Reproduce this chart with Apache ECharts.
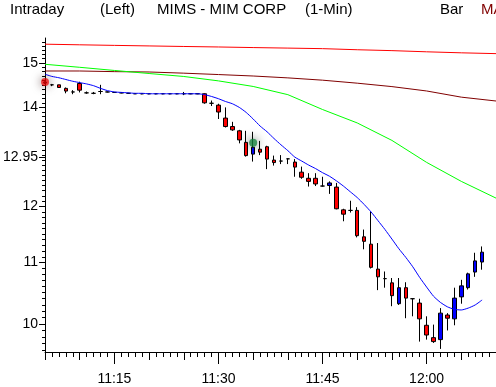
<!DOCTYPE html>
<html>
<head>
<meta charset="utf-8">
<script src="https://cdn.jsdelivr.net/npm/echarts@6/dist/echarts.min.js"></script>
<style>
html,body{margin:0;padding:0;background:#fff;}
#c{width:496px;height:387px;}
</style>
</head>
<body>
<div id="c"></div>
<script>
// ---- categories (1-minute bars) ----
const times = ['11:05','11:06','11:07','11:08','11:09','11:10','11:11','11:12','11:13','11:14',
 '11:15','11:16','11:17','11:18','11:19','11:20','11:21','11:22','11:23','11:24',
 '11:25','11:26','11:27','11:28','11:29','11:30','11:31','11:32','11:33','11:34',
 '11:35','11:36','11:37','11:38','11:39','11:40','11:41','11:42','11:43','11:44',
 '11:45','11:46','11:47','11:48','11:49','11:50','11:51','11:52','11:53','11:54',
 '11:55','11:56','11:57','11:58','11:59','12:00','12:01','12:02','12:03','12:04',
 '12:05','12:06','12:07','12:08','12:09','12:10'];
const xLabels = ['11:15','11:30','11:45','12:00'];

// ---- candles: [open, close, low, high] ----
const candles = [
 [14.56,14.54,14.52,14.58],[14.50,14.50,14.47,14.52],[14.50,14.44,14.43,14.50],[14.42,14.36,14.31,14.44],
 [14.34,14.34,14.29,14.38],[14.53,14.38,14.33,14.57],[14.32,14.32,14.30,14.35],[14.31,14.31,14.29,14.34],
 [14.35,14.35,14.29,14.50],[14.34,14.34,14.33,14.35],[14.33,14.33,14.32,14.34],[14.32,14.32,14.31,14.33],
 [14.31,14.31,14.30,14.32],[14.30,14.30,14.30,14.31],[14.30,14.30,14.29,14.30],[14.30,14.30,14.29,14.30],
 [14.30,14.30,14.29,14.30],[14.30,14.30,14.29,14.30],[14.30,14.30,14.29,14.30],[14.30,14.30,14.29,14.30],
 [14.30,14.30,14.27,14.34],[14.30,14.30,14.29,14.30],[14.30,14.30,14.29,14.30],[14.30,14.10,14.08,14.31],
 [14.09,14.09,14.03,14.15],[14.05,13.90,13.75,14.08],[13.77,13.59,13.57,14.00],[13.59,13.52,13.50,13.69],
 [13.50,13.31,13.24,13.52],[13.26,12.99,12.97,13.50],[13.02,13.16,12.87,13.48],[13.12,13.06,13.00,13.29],
 [13.17,12.92,12.72,13.19],[12.90,12.85,12.79,12.99],[12.88,12.88,12.82,13.00],[12.925,12.925,12.82,12.93],
 [12.86,12.76,12.57,12.92],[12.66,12.56,12.53,12.77],[12.54,12.48,12.38,12.64],[12.54,12.43,12.39,12.64],
 [12.39,12.39,12.38,12.57],[12.40,12.45,12.24,12.48],[12.37,11.96,11.95,12.45],[11.94,11.86,11.73,11.96],
 [11.93,11.93,11.89,12.11],[11.93,11.47,11.44,11.99],[11.45,11.37,11.23,11.58],[11.32,10.92,10.90,11.91],
 [10.89,10.76,10.54,11.34],[10.73,10.73,10.58,10.85],[10.66,10.45,10.28,10.74],[10.32,10.58,10.30,10.74],
 [10.58,10.41,10.09,10.67],[10.40,10.40,10.12,10.40],[10.33,10.08,9.73,10.40],[9.98,9.83,9.76,10.12],
 [9.79,9.73,9.71,9.99],[9.76,10.17,9.62,10.25],[10.14,10.09,9.90,10.17],[10.08,10.41,9.98,10.58],
 [10.43,10.61,10.32,10.71],[10.58,10.81,10.55,10.83],[10.84,11.03,10.76,11.17],[11.01,11.18,10.88,11.28]
];

// ---- short moving average (blue) ----
const maBlue = [14.74,14.69,14.66,14.62,14.58,14.55,14.52,14.48,14.42,14.37,
 14.34,14.33,14.32,14.31,14.31,14.30,14.30,14.30,14.30,14.30,
 14.30,14.30,14.30,14.28,14.24,14.19,14.13,14.08,14.00,13.89,
 13.75,13.60,13.48,13.34,13.21,13.09,12.96,12.88,12.80,12.73,
 12.65,12.58,12.49,12.39,12.28,12.17,12.04,11.90,11.74,11.58,
 11.41,11.24,11.09,10.93,10.75,10.59,10.44,10.34,10.27,10.23,
 10.22,10.25,10.30,10.38];

// ---- longer averages, read every 5 minutes ----
const maTimes = ['11:05','11:10','11:15','11:20','11:25','11:30','11:35','11:40','11:45','11:50','11:55','12:00','12:05','12:10'];
const maRed     = [15.445,15.43,15.416,15.403,15.39,15.378,15.364,15.351,15.338,15.312,15.291,15.263,15.239,15.22];
const maDarkRed = [14.815,14.815,14.80,14.792,14.765,14.733,14.70,14.657,14.605,14.537,14.46,14.362,14.225,14.14];
const maGreen   = [14.97,14.90,14.827,14.757,14.689,14.589,14.463,14.28,13.954,13.666,13.30,12.854,12.48,12.16];

// ---- event markers ----
const markRed = [['11:05', 14.565]];
const markGreen = [['11:35', 13.25]];

// ---- y axis ticks ----
const yTicks = [10, 11, 12, 12.95, 14, 15];
const yTickLabels = ['10', '11', '12', '12.95', '14', '15'];

const minorTicks = [];
for (let k = 96; k <= 155; k++) minorTicks.push(k / 10);

const Y_MIN = 9.574, Y_MAX = 15.594;
const FONT = 'Liberation Sans';

const chart = echarts.init(document.getElementById('c'), null, {renderer: 'canvas'});

function nearestLabel(v) {
  let best = 0, bd = Infinity;
  yTicks.forEach((t, k) => { const d = Math.abs(t - v); if (d < bd) { bd = d; best = k; } });
  return yTickLabels[best];
}
const mins = v => +String(v).slice(-2);

const baseX = {
  type: 'category', data: times, boundaryGap: false, position: 'bottom',
  splitLine: {show: false}
};

const option = {
  animation: false,
  backgroundColor: '#ffffff',
  textStyle: {fontFamily: FONT},
  grid: {left: 42, top: 38, width: 455, bottom: 35},
  graphic: [
    {type: 'text', left: 10, top: 2, style: {text: 'Intraday', font: '15px "' + FONT + '"', fill: '#000'}},
    {type: 'text', left: 100, top: 2, style: {text: '(Left)', font: '15px "' + FONT + '"', fill: '#000'}},
    {type: 'text', left: 157, top: 2, style: {text: 'MIMS - MIM CORP', font: '15px "' + FONT + '"', fill: '#000'}},
    {type: 'text', left: 305, top: 2, style: {text: '(1-Min)', font: '15px "' + FONT + '"', fill: '#000'}},
    {type: 'text', left: 440, top: 2, style: {text: 'Bar', font: '15px "' + FONT + '"', fill: '#000'}},
    {type: 'text', left: 481, top: 2, style: {text: 'MA', font: '15px "' + FONT + '"', fill: '#800000'}}
  ],
  xAxis: [
    Object.assign({}, baseX, {
      axisLine: {show: true, lineStyle: {color: '#000', width: 1}},
      axisTick: {show: true, interval: 0, length: 5, lineStyle: {color: '#000', width: 1}},
      axisLabel: {interval: (i, v) => xLabels.indexOf(v) >= 0, color: '#000', fontSize: 14, fontFamily: FONT, margin: 20}
    }),
    Object.assign({}, baseX, {
      axisLine: {show: false},
      axisTick: {show: true, interval: (i, v) => mins(v) % 5 === 0, length: 8, lineStyle: {color: '#000', width: 1}},
      axisLabel: {show: false}
    }),
    Object.assign({}, baseX, {
      axisLine: {show: false},
      axisTick: {show: true, interval: (i, v) => xLabels.indexOf(v) >= 0, length: 12, lineStyle: {color: '#000', width: 1}},
      axisLabel: {show: false}
    })
  ],
  yAxis: [
    {
      type: 'log', min: Y_MIN, max: Y_MAX, position: 'left',
      axisLine: {show: true, lineStyle: {color: '#000', width: 1}},
      axisTick: {show: true, length: 6, customValues: yTicks, lineStyle: {color: '#000', width: 1}},
      axisLabel: {customValues: yTicks, formatter: v => nearestLabel(v), color: '#000', fontSize: 14, fontFamily: FONT, margin: 7},
      splitLine: {show: false}
    },
    {
      type: 'log', min: Y_MIN, max: Y_MAX, position: 'left',
      axisLine: {show: false},
      axisTick: {show: true, length: 3, customValues: minorTicks, lineStyle: {color: '#000', width: 1}},
      axisLabel: {show: false},
      splitLine: {show: false}
    }
  ],
  series: [
    {
      name: 'MA long', type: 'line', xAxisIndex: 0, yAxisIndex: 0,
      data: maTimes.map((t, k) => [t, maRed[k]]),
      symbol: 'none', smooth: false,
      lineStyle: {color: '#ff0000', width: 1}, z: 2
    },
    {
      name: 'MA mid', type: 'line', xAxisIndex: 0, yAxisIndex: 0,
      data: maTimes.map((t, k) => [t, maDarkRed[k]]),
      symbol: 'none', smooth: false,
      lineStyle: {color: '#800000', width: 1}, z: 2
    },
    {
      name: 'MA green', type: 'line', xAxisIndex: 0, yAxisIndex: 0,
      data: maTimes.map((t, k) => [t, maGreen[k]]),
      symbol: 'none', smooth: false,
      lineStyle: {color: '#00ff00', width: 1}, z: 2
    },
    {
      name: 'Bar', type: 'candlestick', xAxisIndex: 0, yAxisIndex: 0,
      data: candles, barWidth: 4,
      itemStyle: {color: '#0000ff', color0: '#ff0000', borderColor: '#000', borderColor0: '#000', borderColorDoji: '#000', borderWidth: 1},
      z: 3
    },
    {
      name: 'MA short', type: 'line', xAxisIndex: 0, yAxisIndex: 0,
      data: maBlue, symbol: 'none', smooth: 0.2,
      lineStyle: {color: '#0000ff', width: 1}, z: 4
    },
    {
      name: 'mark1', type: 'scatter', xAxisIndex: 0, yAxisIndex: 0,
      data: markRed, symbol: 'circle', symbolSize: 8,
      itemStyle: {color: 'rgba(240,0,0,0.9)', shadowBlur: 10, shadowColor: 'rgba(40,0,0,0.9)'}, z: 5
    },
    {
      name: 'mark2', type: 'scatter', xAxisIndex: 0, yAxisIndex: 0,
      data: markGreen, symbol: 'circle', symbolSize: 8,
      itemStyle: {color: 'rgba(20,130,60,0.95)', shadowBlur: 10, shadowColor: 'rgba(0,30,10,0.9)'}, z: 5
    }
  ]
};
chart.setOption(option);
</script>
</body>
</html>
